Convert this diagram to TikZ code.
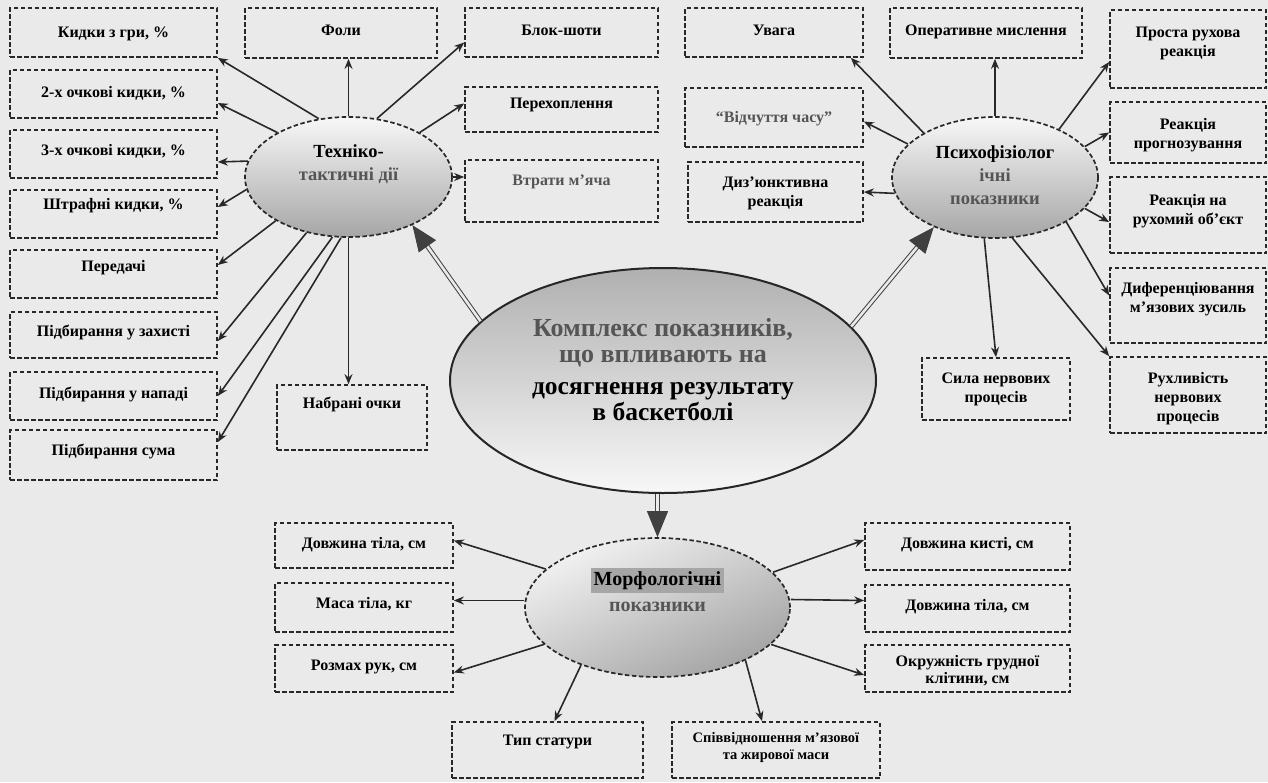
\documentclass[tikz,border=0pt]{standalone}
\usepackage{fontspec}
\setmainfont{Liberation Serif}[BoldFont={Liberation Serif Bold}]
\usetikzlibrary{shapes.geometric,arrows.meta,calc}
\definecolor{bgc}{RGB}{234,234,234}
\definecolor{ink}{RGB}{40,40,40}
\definecolor{faded}{RGB}{85,85,85}
\newcommand\dbox[8][]{%
  \node[bx,#1] (#2) at ({(#3+#5)/2},{(#4+#6)/2})
   {\parbox[c][\dimexpr#6pt-#4pt\relax][t]{\dimexpr#5pt-#3pt\relax}{\centering\vspace*{#7pt}\strut#8}};}
\newcommand\bigline{\fontsize{25.5}{25}\selectfont}
\begin{document}
\begin{tikzpicture}[x=1pt,y=-1pt,
  bx/.style={draw=ink, line width=1.7pt, dash pattern=on 4.5pt off 2.5pt, inner sep=0pt,
    font=\fontsize{16}{19}\selectfont\bfseries, text=black},
  ell/.style={ellipse, inner sep=0pt},
  elab/.style={font=\fontsize{18.5}{23}\selectfont\bfseries, align=center, text=black},
  ar/.style={draw=ink, line width=1.6pt, -{Stealth[length=10pt,width=8pt]}},
  big/.style={draw=black!75, line width=1pt, double=bgc, double distance=2.6pt,
    -{Triangle[length=26pt,width=21pt]}}]
\useasboundingbox (0,0) rectangle (1268,782);
\fill[bgc] (0,0) rectangle (1268,782);

% ---- ellipses ----
\node[ell, minimum width=426pt, minimum height=225pt, draw=black!85, line width=2pt,
  top color=gray!62, middle color=gray!30, bottom color=gray!6,
  label={[align=center, yshift=11pt, font=\fontsize{26}{26.5}\selectfont\bfseries]center:{\textcolor{faded}{Комплекс показників,}\\\textcolor{faded}{що впливають на}\\[5pt]\bigline досягнення результату\\\bigline в баскетболі}}]
  (cn) at (663,380.5) {};
\node[ell, minimum width=207pt, minimum height=120pt, draw=ink, line width=1.7pt,
  dash pattern=on 4.5pt off 2.5pt, top color=gray!6, middle color=gray!34, bottom color=gray!70,
  label={[elab, yshift=12.5pt]center:{Техніко-\\\textcolor{faded}{тактичні дії}}}]
  (tt) at (348.5,177) {};
\node[ell, minimum width=206pt, minimum height=121pt, draw=ink, line width=1.7pt,
  dash pattern=on 4.5pt off 2.5pt, top color=gray!6, middle color=gray!34, bottom color=gray!70,
  label={[elab, yshift=2pt]center:{Психофізіолог\\\textcolor{faded}{ічні}\\\textcolor{faded}{показники}}}]
  (ps) at (995,177.5) {};
\node[ell, minimum width=265pt, minimum height=139pt, draw=ink, line width=1.7pt,
  dash pattern=on 4.5pt off 2.5pt, top color=gray!10, bottom color=gray!72, shading angle=25,
  label={[font=\fontsize{20}{26}\selectfont\bfseries, align=center, yshift=17.5pt]center:{\colorbox{gray!70}{Морфологічні}\\\textcolor{faded}{показники}}}]
  (mo) at (657.5,607.5) {};

% ---- boxes: technical-tactical ----
\dbox{l1}{10}{8}{217}{57}{16}{Кидки з гри, \%}
\dbox{l2}{10}{70}{217}{118}{14}{2-х очкові кидки, \%}
\dbox{l3}{10}{130}{217}{178}{12}{3-х очкові кидки, \%}
\dbox{l4}{10}{190}{217}{238}{6}{Штрафні кидки, \%}
\dbox{l5}{10}{250}{217}{298}{8}{Передачі}
\dbox{l6}{10}{312}{217}{358}{11}{Підбирання у захисті}
\dbox{l7}{10}{372}{217}{420}{13}{Підбирання у нападі}
\dbox{l8}{10}{430}{217}{480}{12}{Підбирання сума}
\dbox{fol}{245}{8}{437}{58}{14}{Фоли}
\dbox{blk}{465}{8}{658}{57}{14}{Блок-шоти}
\dbox{per}{465}{87}{658}{132}{8}{Перехоплення}
\dbox[text=faded]{vtr}{465}{160}{658}{222}{12}{Втрати м'яча}
\dbox{nab}{277}{385}{427}{450}{10}{Набрані очки}

% ---- boxes: psychophysiological ----
\dbox{uv}{685}{8}{863}{57}{14}{Увага}
\dbox[text=faded]{vch}{685}{88}{863}{147}{21}{“Відчуття часу”}
\dbox{dz}{688}{162}{863}{222}{12}{Диз'юнктивна\\реакція}
\dbox{om}{890}{8}{1082}{58}{14}{Оперативне мислення}
\dbox{pr}{1110}{10}{1266}{88}{14}{Проста рухова\\реакція}
\dbox{rp}{1110}{102}{1266}{163}{14}{Реакція\\прогнозування}
\dbox{rr}{1110}{177}{1266}{253}{15}{Реакція на\\рухомий об'єкт}
\dbox{df}{1110}{268}{1266}{343}{12}{Диференціювання\\м'язових зусиль}
\dbox{rh}{1110}{357}{1266}{433}{13}{Рухливість\\нервових\\процесів}
\dbox{sl}{922}{358}{1070}{420}{12}{Сила нервових\\процесів}

% ---- boxes: morphological ----
\dbox{dl}{275}{523}{453}{568}{12}{Довжина тіла, см}
\dbox{ms}{275}{583}{453}{632}{12}{Маса тіла, кг}
\dbox{rz}{275}{645}{453}{692}{12}{Розмах рук, см}
\dbox{ts}{452}{722}{643}{778}{10}{Тип статури}
\dbox{dk}{865}{523}{1070}{570}{12}{Довжина кисті, см}
\dbox{dr}{865}{585}{1070}{632}{12}{Довжина тіла, см}
\dbox[font=\fontsize{16}{17}\selectfont\bfseries]{ok}{865}{645}{1070}{692}{10}{Окружність грудної\\клітини, см}
\dbox[font=\fontsize{14.5}{17}\selectfont\bfseries]{sv}{672}{722}{880}{778}{8.5}{Співвідношення м'язової\\та жирової маси}

% ---- big arrows ----
\draw[big] (cn.162.9) -- (tt.-37.5);
\draw[big] (cn.16.7) -- (ps.219.5);
\draw[big] (cn.south -| mo.north) -- (mo.north);

% ---- arrows from technical-tactical ----
\draw[ar] (tt.117) -- (l1.south east);
\draw[ar] (tt.148.5) -- ([yshift=-9pt]l2.east);
\draw[ar] (tt.171.6) -- ([yshift=-8pt]l3.east);
\draw[ar] (tt.187.3) -- ([yshift=7pt]l4.east);
\draw[ar] (tt.211) -- ([yshift=9pt]l5.east);
\draw[ar] (tt.233.6) -- ([yshift=-6pt]l6.east);
\draw[ar] (tt.255.5) -- (l7.east);
\draw[ar] (tt.263) -- ([yshift=13pt]l8.east);
\draw[ar] (tt.north) -- (tt.north |- fol.south);
\draw[ar] (tt.64.6) -- ([yshift=-10pt]blk.west);
\draw[ar] (tt.32.2) -- ([yshift=6pt]per.west);
\draw[ar] (tt.east) -- ([yshift=14pt]vtr.west);
\draw[ar] (tt.south) -- (tt.south |- nab.north);

% ---- arrows from psychophysiological ----
\draw[ar] (ps.148.6) -- ([xshift=-13pt]uv.south east);
\draw[ar] (ps.159.4) -- ([yshift=-4pt]vch.east);
\draw[ar] (ps.189) -- (dz.east);
\draw[ar] (ps.north) -- (ps.north |- om.south);
\draw[ar] (ps.37.5) -- ([yshift=-13pt]pr.west);
\draw[ar] (ps.19.1) -- (rp.west);
\draw[ar] (ps.-19.9) -- ([yshift=-7pt]rr.west);
\draw[ar] (ps.-32.4) -- ([yshift=10pt]df.west);
\draw[ar] (ps.-74) -- (rh.north west);
\draw[ar] (ps.260.5) -- (sl.north);

% ---- arrows from morphological ----
\draw[ar] (mo.161.4) -- ([yshift=5pt]dl.east);
\draw[ar] ([yshift=7pt]mo.west) -- ([yshift=7pt]ms.east);
\draw[ar] (mo.198.6) -- ([yshift=-4pt]rz.east);
\draw[ar] (mo.217.3) -- ([xshift=7pt]ts.north);
\draw[ar] (mo.-31) -- ([xshift=-14pt]sv.north);
\draw[ar] (mo.17.7) -- ([yshift=6.5pt]dk.west);
\draw[ar] ([yshift=8pt]mo.east) -- ([yshift=8pt]dr.west);
\draw[ar] (mo.-18.6) -- ([yshift=-6.5pt]ok.west);
\end{tikzpicture}
\end{document}
